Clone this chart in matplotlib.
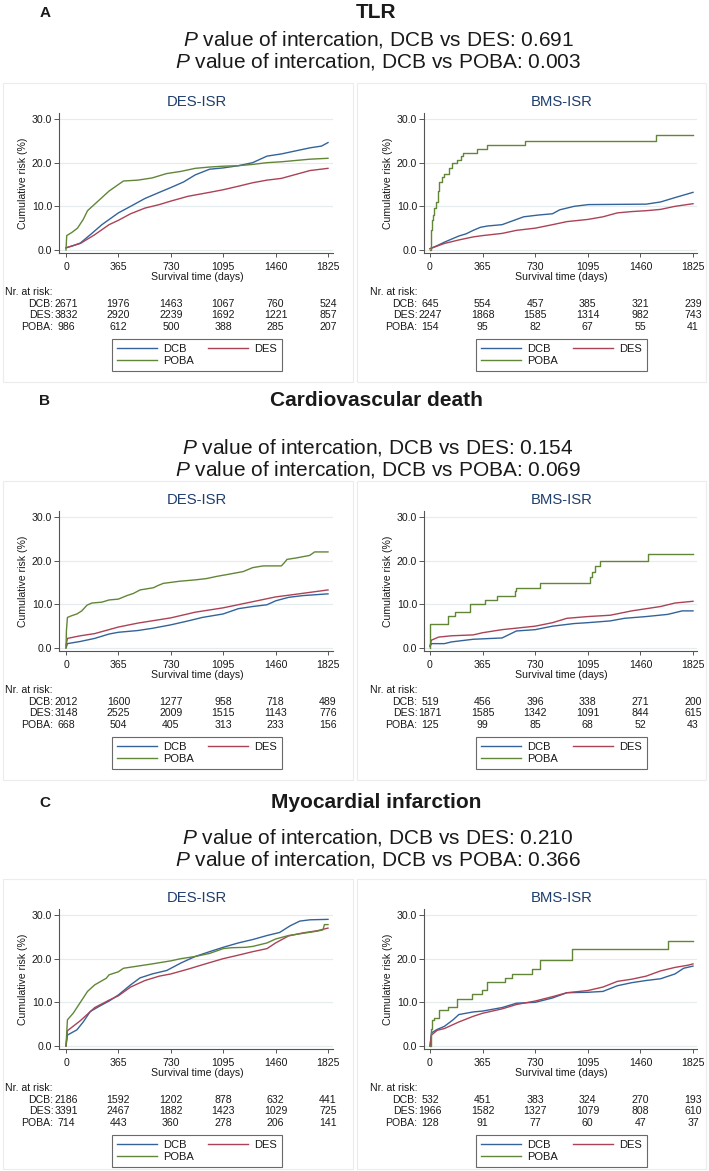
import matplotlib
matplotlib.use('Agg')
import matplotlib.pyplot as plt
from matplotlib.lines import Line2D
from matplotlib.patches import Rectangle
import matplotlib.transforms as mtransforms

plt.rcParams['font.family'] = ['Liberation Sans', 'DejaVu Sans']
plt.rcParams['mathtext.fontset'] = 'custom'
plt.rcParams['mathtext.rm'] = 'Liberation Sans'
plt.rcParams['mathtext.it'] = 'Liberation Sans:italic'

# ---------------- data ----------------
panel_letters = ['A', 'B', 'C']
outcome_titles = ['TLR', 'Cardiovascular death', 'Myocardial infarction']
p_dcb_des = ['0.691', '0.154', '0.210']
p_dcb_poba = ['0.003', '0.069', '0.366']
subgroups = ['DES-ISR', 'BMS-ISR']
groups = ['DCB', 'DES', 'POBA']
x_ticks = [0, 365, 730, 1095, 1460, 1825]
y_ticks = [0, 10, 20, 30]

# TLR, DES-ISR
tlr_des_dcb_t = [0, 50, 100, 180, 250, 365, 450, 550, 650, 730, 820, 900, 1000, 1095, 1200, 1300, 1400, 1500, 1600, 1700, 1780, 1825]
tlr_des_dcb_r = [0.5, 1.0, 1.6, 3.8, 5.8, 8.5, 10.0, 11.8, 13.2, 14.3, 15.6, 17.2, 18.5, 18.8, 19.3, 20.0, 21.5, 22.0, 22.7, 23.4, 23.8, 24.6]
tlr_des_des_t = [0, 100, 200, 300, 365, 450, 550, 650, 730, 850, 1000, 1095, 1200, 1300, 1400, 1500, 1600, 1700, 1825]
tlr_des_des_r = [0.5, 1.5, 3.5, 5.8, 6.8, 8.3, 9.6, 10.4, 11.2, 12.3, 13.2, 13.8, 14.6, 15.4, 16.0, 16.4, 17.3, 18.2, 18.7]
tlr_des_poba_t = [0, 5, 40, 80, 120, 150, 200, 250, 300, 365, 400, 500, 600, 700, 800, 900, 1000, 1100, 1200, 1300, 1400, 1500, 1600, 1700, 1825]
tlr_des_poba_r = [0, 3.3, 4.0, 5.0, 7.0, 9.0, 10.5, 12.0, 13.5, 15.0, 15.8, 16.0, 16.5, 17.5, 18.0, 18.7, 19.0, 19.2, 19.3, 19.6, 20.0, 20.2, 20.5, 20.8, 21.0]
# TLR, BMS-ISR
tlr_bms_dcb_t = [0, 50, 100, 200, 250, 300, 350, 400, 500, 600, 650, 750, 850, 900, 1000, 1100, 1500, 1600, 1700, 1825]
tlr_bms_dcb_r = [0.3, 1.0, 1.8, 3.2, 3.7, 4.5, 5.2, 5.5, 5.8, 7.0, 7.6, 8.0, 8.3, 9.2, 10.0, 10.4, 10.5, 11.0, 12.0, 13.2]
tlr_bms_des_t = [0, 100, 200, 300, 365, 500, 600, 730, 850, 950, 1095, 1200, 1300, 1400, 1500, 1600, 1700, 1825]
tlr_bms_des_r = [0.3, 1.5, 2.3, 3.0, 3.3, 3.8, 4.5, 5.0, 5.8, 6.5, 7.0, 7.6, 8.5, 8.8, 9.0, 9.3, 10.0, 10.6]
tlr_bms_poba_t = [0, 5, 12, 20, 30, 45, 55, 65, 80, 100, 130, 150, 190, 215, 230, 325, 395, 658, 1571, 1825]
tlr_bms_poba_r = [0, 4.5, 6.9, 8.0, 9.7, 11.0, 13.5, 15.5, 16.8, 17.5, 18.8, 20.0, 20.5, 21.5, 22.3, 23.2, 24.0, 24.9, 26.4, 26.4]
# Cardiovascular death, DES-ISR
cvd_des_dcb_t = [0, 10, 100, 200, 300, 365, 500, 600, 730, 850, 950, 1095, 1200, 1300, 1400, 1460, 1550, 1650, 1825]
cvd_des_dcb_r = [0, 1.0, 1.5, 2.2, 3.2, 3.6, 4.0, 4.5, 5.3, 6.2, 7.0, 7.8, 9.0, 9.5, 9.9, 10.8, 11.6, 12.0, 12.4]
cvd_des_des_t = [0, 10, 100, 200, 365, 500, 730, 900, 1095, 1300, 1460, 1600, 1825]
cvd_des_des_r = [0.5, 2.2, 2.8, 3.3, 4.8, 5.7, 6.9, 8.2, 9.2, 10.6, 11.7, 12.3, 13.3]
cvd_des_poba_t = [0, 3, 10, 40, 76, 110, 146, 180, 250, 300, 365, 424, 470, 516, 609, 640, 678, 794, 900, 979, 1050, 1118, 1234, 1300, 1373, 1500, 1520, 1540, 1600, 1697, 1732, 1825]
cvd_des_poba_r = [0, 4.0, 7.0, 7.4, 7.8, 8.5, 9.8, 10.3, 10.5, 11.0, 11.2, 12.0, 12.5, 13.3, 13.8, 14.3, 14.8, 15.3, 15.6, 15.9, 16.4, 16.8, 17.5, 18.4, 18.8, 18.8, 19.5, 20.3, 20.6, 21.2, 22.0, 22.0]
# Cardiovascular death, BMS-ISR
cvd_bms_dcb_t = [0, 10, 100, 150, 300, 500, 600, 730, 850, 1000, 1095, 1250, 1350, 1500, 1650, 1750, 1825]
cvd_bms_dcb_r = [0.3, 1.0, 1.0, 1.4, 2.0, 2.3, 3.9, 4.2, 5.0, 5.6, 5.8, 6.2, 6.8, 7.2, 7.7, 8.5, 8.5]
cvd_bms_des_t = [0, 10, 60, 150, 300, 365, 500, 730, 850, 950, 1095, 1250, 1400, 1500, 1600, 1700, 1825]
cvd_bms_des_r = [0.5, 1.8, 2.5, 2.8, 3.0, 3.5, 4.2, 5.0, 5.8, 6.8, 7.2, 7.5, 8.5, 9.0, 9.5, 10.3, 10.7]
cvd_bms_poba_t = [0, 3, 127, 173, 277, 381, 462, 589, 600, 762, 1109, 1125, 1148, 1178, 1513, 1825]
cvd_bms_poba_r = [0, 5.6, 7.3, 8.3, 10.0, 11.0, 12.0, 13.0, 13.8, 14.8, 16.2, 17.5, 18.7, 20.0, 21.6, 21.6]
# Myocardial infarction, DES-ISR
mi_des_dcb_t = [0, 10, 76, 120, 169, 238, 300, 365, 450, 516, 600, 702, 800, 900, 1000, 1095, 1200, 1303, 1400, 1488, 1560, 1628, 1700, 1825]
mi_des_dcb_r = [0, 2.5, 3.7, 5.5, 7.9, 9.2, 10.3, 11.7, 14.0, 15.6, 16.5, 17.3, 19.0, 20.5, 21.6, 22.6, 23.6, 24.4, 25.3, 26.0, 27.5, 28.6, 28.9, 29.0]
mi_des_des_t = [0, 10, 100, 200, 300, 365, 450, 550, 650, 730, 850, 950, 1095, 1200, 1300, 1400, 1460, 1550, 1650, 1750, 1825]
mi_des_des_r = [0, 3.5, 5.8, 8.8, 10.5, 11.5, 13.5, 15.0, 16.0, 16.5, 17.6, 18.6, 20.0, 20.8, 21.6, 22.3, 23.6, 25.2, 25.9, 26.4, 27.0]
mi_des_poba_t = [0, 10, 50, 100, 150, 200, 280, 300, 365, 400, 500, 600, 730, 800, 900, 1000, 1095, 1150, 1250, 1300, 1400, 1460, 1550, 1650, 1750, 1790, 1800, 1825]
mi_des_poba_r = [0, 6.0, 7.5, 10.0, 12.5, 14.0, 15.5, 16.3, 17.0, 17.8, 18.3, 18.8, 19.5, 20.0, 20.5, 21.2, 22.3, 22.5, 22.6, 22.8, 23.6, 24.5, 25.3, 25.8, 26.3, 26.6, 27.8, 27.8]
# Myocardial infarction, BMS-ISR
mi_bms_dcb_t = [0, 10, 50, 100, 160, 200, 300, 365, 500, 600, 730, 850, 950, 1095, 1200, 1300, 1400, 1500, 1600, 1700, 1760, 1825]
mi_bms_dcb_r = [0, 3.0, 3.8, 4.5, 6.0, 7.2, 7.8, 8.0, 8.8, 9.8, 10.0, 11.0, 12.2, 12.3, 12.5, 13.8, 14.5, 15.0, 15.4, 16.5, 17.8, 18.3]
mi_bms_des_t = [0, 10, 50, 100, 200, 300, 365, 500, 600, 730, 850, 950, 1095, 1200, 1300, 1400, 1500, 1600, 1700, 1790, 1825]
mi_bms_des_r = [0, 2.5, 3.6, 4.0, 5.5, 6.8, 7.5, 8.5, 9.5, 10.3, 11.3, 12.2, 12.7, 13.5, 14.8, 15.3, 16.0, 17.2, 18.0, 18.5, 18.8]
mi_bms_poba_t = [0, 5, 15, 30, 60, 127, 185, 289, 358, 393, 520, 566, 705, 762, 982, 1652, 1825]
mi_bms_poba_r = [0, 4.0, 6.0, 6.5, 8.3, 9.0, 10.8, 11.8, 12.8, 14.7, 15.6, 16.6, 17.7, 19.8, 22.2, 24.1, 24.1]

# Numbers at risk
tlr_des_nrisk_dcb = [2671, 1976, 1463, 1067, 760, 524]
tlr_des_nrisk_des = [3832, 2920, 2239, 1692, 1221, 857]
tlr_des_nrisk_poba = [986, 612, 500, 388, 285, 207]
tlr_bms_nrisk_dcb = [645, 554, 457, 385, 321, 239]
tlr_bms_nrisk_des = [2247, 1868, 1585, 1314, 982, 743]
tlr_bms_nrisk_poba = [154, 95, 82, 67, 55, 41]
cvd_des_nrisk_dcb = [2012, 1600, 1277, 958, 718, 489]
cvd_des_nrisk_des = [3148, 2525, 2009, 1515, 1143, 776]
cvd_des_nrisk_poba = [668, 504, 405, 313, 233, 156]
cvd_bms_nrisk_dcb = [519, 456, 396, 338, 271, 200]
cvd_bms_nrisk_des = [1871, 1585, 1342, 1091, 844, 615]
cvd_bms_nrisk_poba = [125, 99, 85, 68, 52, 43]
mi_des_nrisk_dcb = [2186, 1592, 1202, 878, 632, 441]
mi_des_nrisk_des = [3391, 2467, 1882, 1423, 1029, 725]
mi_des_nrisk_poba = [714, 443, 360, 278, 206, 141]
mi_bms_nrisk_dcb = [532, 451, 383, 324, 270, 193]
mi_bms_nrisk_des = [1966, 1582, 1327, 1079, 808, 610]
mi_bms_nrisk_poba = [128, 91, 77, 60, 47, 37]

curves = [
    [  # TLR
        [(tlr_des_dcb_t, tlr_des_dcb_r), (tlr_des_des_t, tlr_des_des_r), (tlr_des_poba_t, tlr_des_poba_r)],
        [(tlr_bms_dcb_t, tlr_bms_dcb_r), (tlr_bms_des_t, tlr_bms_des_r), (tlr_bms_poba_t, tlr_bms_poba_r)],
    ],
    [  # CV death
        [(cvd_des_dcb_t, cvd_des_dcb_r), (cvd_des_des_t, cvd_des_des_r), (cvd_des_poba_t, cvd_des_poba_r)],
        [(cvd_bms_dcb_t, cvd_bms_dcb_r), (cvd_bms_des_t, cvd_bms_des_r), (cvd_bms_poba_t, cvd_bms_poba_r)],
    ],
    [  # MI
        [(mi_des_dcb_t, mi_des_dcb_r), (mi_des_des_t, mi_des_des_r), (mi_des_poba_t, mi_des_poba_r)],
        [(mi_bms_dcb_t, mi_bms_dcb_r), (mi_bms_des_t, mi_bms_des_r), (mi_bms_poba_t, mi_bms_poba_r)],
    ],
]
nrisk = [
    [[tlr_des_nrisk_dcb, tlr_des_nrisk_des, tlr_des_nrisk_poba],
     [tlr_bms_nrisk_dcb, tlr_bms_nrisk_des, tlr_bms_nrisk_poba]],
    [[cvd_des_nrisk_dcb, cvd_des_nrisk_des, cvd_des_nrisk_poba],
     [cvd_bms_nrisk_dcb, cvd_bms_nrisk_des, cvd_bms_nrisk_poba]],
    [[mi_des_nrisk_dcb, mi_des_nrisk_des, mi_des_nrisk_poba],
     [mi_bms_nrisk_dcb, mi_bms_nrisk_des, mi_bms_nrisk_poba]],
]

# ---------------- layout / style ----------------
W, H = 709, 1171
fig = plt.figure(figsize=(W / 100, H / 100), dpi=100)


def fx(x):
    return x / W


def fy(y):
    return 1 - y / H


colors = ['#33639a', '#ab4256', '#628637']
sub_color = '#1f3f6e'
axis_color = '#555555'
text_color = '#1a1a1a'
small = 7.6

panel_off = [0, 398, 796]
title_y = [13, 401, 803]
p1_y = [40, 448, 837]
p2_y = [62, 470, 859]

# pixel geometry of each sub-plot column: spine x, x of day 0, x of day 1825, right end
col_geom = [(59, 66, 328, 333), (424, 430, 693, 697)]
label_x = [23, 388]
nr_x = [5, 370]
border_x = [(3, 353), (357, 706)]

for p in range(3):
    off = panel_off[p]
    fig.text(fx(45), fy(title_y[p]), panel_letters[p], ha='center', va='center',
             fontsize=11, fontweight='bold', color=text_color)
    fig.text(fx(376), fy(title_y[p]), outcome_titles[p], ha='center', va='center',
             fontsize=15, fontweight='bold', color=text_color)
    fig.text(fx(378), fy(p1_y[p]), r'$\mathit{P}$ value of intercation, DCB vs DES: ' + p_dcb_des[p],
             ha='center', va='center', fontsize=15, color=text_color)
    fig.text(fx(378), fy(p2_y[p]), r'$\mathit{P}$ value of intercation, DCB vs POBA: ' + p_dcb_poba[p],
             ha='center', va='center', fontsize=15, color=text_color)

    for s in range(2):
        spine_x, x0px, x1px, right_x = col_geom[s]
        top = 113 + off
        bottom = 253 + off
        ppd = (x1px - x0px) / 1825.0
        # border of sub-graph
        bx0, bx1 = border_x[s]
        btop = 83 + off
        bbot = min(382 + off, H - 2)
        fig.patches.append(Rectangle((fx(bx0), fy(bbot)), (bx1 - bx0) / W, (bbot - btop) / H,
                                     transform=fig.transFigure, fill=False,
                                     edgecolor='#ececec', lw=0.8))

        ax = fig.add_axes([fx(spine_x), fy(bottom), (right_x - spine_x) / W, (bottom - top) / H])
        ax.set_xlim(-(x0px - spine_x) / ppd, 1825 + (right_x - x1px) / ppd)
        ppu = 131 / 30.0
        ax.set_ylim(-3 / ppu, 30 + 6 / ppu)
        for g in range(3):
            t, r = curves[p][s][g]
            if s == 1 and g == 2:
                ax.step(t, r, where='post', color=colors[g], lw=1.0)
            else:
                ax.plot(t, r, color=colors[g], lw=1.0)
        ax.set_xticks(x_ticks)
        ax.set_yticks(y_ticks)
        ax.set_yticklabels(['%.1f' % v for v in y_ticks])
        ax.tick_params(axis='x', labelsize=small, length=3, width=0.7, color=axis_color,
                       pad=3.2, labelcolor=text_color)
        ax.tick_params(axis='y', labelsize=small, length=3.5, width=0.7, color=axis_color,
                       pad=1.5, labelcolor=text_color)
        for side in ['top', 'right']:
            ax.spines[side].set_visible(False)
        for side in ['left', 'bottom']:
            ax.spines[side].set_color(axis_color)
            ax.spines[side].set_linewidth(0.8)
        ax.yaxis.grid(True, color='#e4ecee', lw=0.8)
        ax.set_axisbelow(True)

        cx_px = x0px + (x1px - x0px) / 2.0
        # subgroup title
        fig.text(fx(cx_px), fy(102 + off), subgroups[s], ha='center', va='center',
                 fontsize=10.7, color=sub_color)
        # y label
        fig.text(fx(label_x[s]), fy((top + bottom) / 2.0), 'Cumulative risk (%)', rotation=90,
                 ha='center', va='center', fontsize=small, color=text_color)
        # x label
        fig.text(fx(cx_px), fy(277 + off), 'Survival time (days)', ha='center', va='center',
                 fontsize=small, color=text_color)
        # risk table
        fig.text(fx(nr_x[s]), fy(292 + off), 'Nr. at risk:', ha='left', va='center',
                 fontsize=small, color=text_color)
        trans = mtransforms.blended_transform_factory(ax.transData, fig.transFigure)
        row_y = [304, 315, 327]
        for g in range(3):
            ax.text(-12.5 / ppd, fy(row_y[g] + off), groups[g] + ':', transform=trans,
                    ha='right', va='center', fontsize=small, color=text_color, clip_on=False)
            for k, xv in enumerate(x_ticks):
                ax.text(xv, fy(row_y[g] + off), str(nrisk[p][s][g][k]), transform=trans,
                        ha='center', va='center', fontsize=small, color=text_color, clip_on=False)
        # legend
        handles = [Line2D([], [], color=colors[0], lw=1.0),
                   Line2D([], [], color=colors[2], lw=1.0),
                   Line2D([], [], color=colors[1], lw=1.0)]
        labels = [groups[0], groups[2], groups[1]]
        leg = ax.legend(handles, labels, loc='center', ncol=2,
                        bbox_to_anchor=(fx(cx_px), fy(355 + off)), bbox_transform=fig.transFigure,
                        frameon=True, fancybox=False, fontsize=8, handlelength=3.6,
                        handletextpad=0.55, columnspacing=1.3, labelspacing=0.15,
                        borderpad=0.45, borderaxespad=0)
        leg.get_frame().set_edgecolor('#444444')
        leg.get_frame().set_linewidth(0.8)
        for txt in leg.get_texts():
            txt.set_color(text_color)

fig.savefig('out.png', dpi=100)
